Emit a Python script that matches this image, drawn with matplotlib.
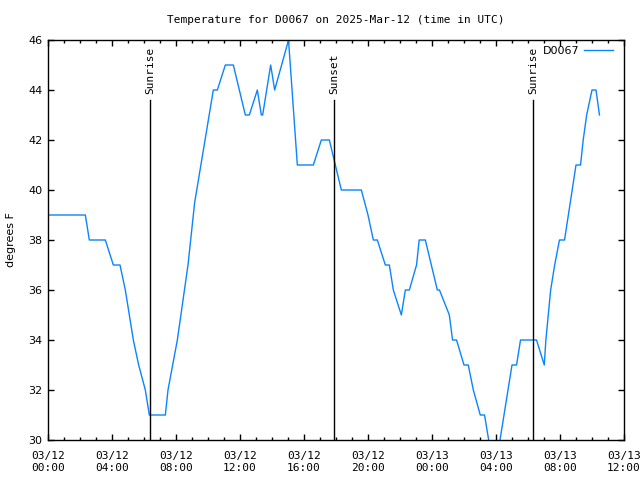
import matplotlib
matplotlib.use("Agg")
import matplotlib.pyplot as plt
import matplotlib.dates as mdates
import pandas as pd

# temperature readings (UTC)
times = ["2025-03-12 00:00", "2025-03-12 02:20", "2025-03-12 02:35", "2025-03-12 03:35",
         "2025-03-12 04:05", "2025-03-12 04:30", "2025-03-12 04:50", "2025-03-12 05:05",
         "2025-03-12 05:20", "2025-03-12 05:40", "2025-03-12 06:05", "2025-03-12 06:20",
         "2025-03-12 07:20", "2025-03-12 07:30", "2025-03-12 08:05", "2025-03-12 08:45",
         "2025-03-12 09:10", "2025-03-12 10:20", "2025-03-12 10:35", "2025-03-12 11:05",
         "2025-03-12 11:35", "2025-03-12 12:20", "2025-03-12 12:35", "2025-03-12 13:05",
         "2025-03-12 13:20", "2025-03-12 13:25", "2025-03-12 13:55", "2025-03-12 14:10",
         "2025-03-12 15:02", "2025-03-12 15:35", "2025-03-12 16:35", "2025-03-12 17:05",
         "2025-03-12 17:35", "2025-03-12 18:20", "2025-03-12 19:35", "2025-03-12 20:00",
         "2025-03-12 20:20", "2025-03-12 20:35", "2025-03-12 21:05", "2025-03-12 21:20",
         "2025-03-12 21:35", "2025-03-12 22:05", "2025-03-12 22:20", "2025-03-12 22:35",
         "2025-03-12 23:02", "2025-03-12 23:12", "2025-03-12 23:35", "2025-03-13 00:20",
         "2025-03-13 00:28", "2025-03-13 01:05", "2025-03-13 01:17", "2025-03-13 01:32",
         "2025-03-13 02:00", "2025-03-13 02:16", "2025-03-13 02:35", "2025-03-13 03:01",
         "2025-03-13 03:17", "2025-03-13 03:48", "2025-03-13 04:00", "2025-03-13 05:00",
         "2025-03-13 05:17", "2025-03-13 05:32", "2025-03-13 06:32", "2025-03-13 07:01",
         "2025-03-13 07:07", "2025-03-13 07:16", "2025-03-13 07:25", "2025-03-13 07:40",
         "2025-03-13 07:58", "2025-03-13 08:17", "2025-03-13 09:00", "2025-03-13 09:17",
         "2025-03-13 09:27", "2025-03-13 09:40", "2025-03-13 10:00", "2025-03-13 10:15",
         "2025-03-13 10:28"]
temps = [39, 39, 38, 38,
         37, 37, 36, 35,
         34, 33, 32, 31,
         31, 32, 34, 37,
         39.5, 44, 44, 45,
         45, 43, 43, 44,
         43, 43, 45, 44,
         46, 41, 41, 42,
         42, 40, 40, 39,
         38, 38, 37, 37,
         36, 35, 36, 36,
         37, 38, 38, 36,
         36, 35, 34, 34,
         33, 33, 32, 31,
         31, 29, 29, 33,
         33, 34, 34, 33,
         34, 35, 36, 37,
         38, 38, 41, 41,
         42, 43, 44, 44,
         43]

# sun events
sun_times = ["2025-03-12 06:23", "2025-03-12 17:52", "2025-03-13 06:19"]
sun_labels = ["Sunrise", "Sunset", "Sunrise"]

x_start = pd.Timestamp("2025-03-12 00:00")
x_end = pd.Timestamp("2025-03-13 12:00")

t = pd.to_datetime(times)

fig = plt.figure(figsize=(6.4, 4.8), dpi=100)
ax = fig.add_axes([48/640, 40/480, 576/640, 400/480])

ax.plot(t, temps, color="#0a84ff", lw=1.0, label="D0067")

for st, lab in zip(pd.to_datetime(sun_times), sun_labels):
    ax.plot([st, st], [30, 43.6], color="black", lw=1.0)
    ax.text(st, 43.85, lab, rotation=90, ha="center", va="bottom",
            fontsize=8, family="DejaVu Sans Mono")

ax.set_xlim(x_start, x_end)
ax.set_ylim(30, 46)
ax.set_yticks(range(30, 47, 2))
ax.xaxis.set_major_locator(mdates.HourLocator(byhour=[0, 4, 8, 12, 16, 20]))
ax.xaxis.set_minor_locator(mdates.HourLocator())
ax.xaxis.set_major_formatter(mdates.DateFormatter("%m/%d\n%H:%M"))

ax.tick_params(which="both", direction="in", top=True, right=True, labelsize=8, width=1)
ax.tick_params(which="major", length=4, pad=8)
ax.tick_params(which="minor", length=2)
ax.tick_params(axis="y", pad=4)
for lab in ax.get_xticklabels():
    lab.set_family("DejaVu Sans Mono")
for s in ax.spines.values():
    s.set_linewidth(1)

fig.text(11/640, 0.5, "degrees F", rotation=90, ha="center", va="center", fontsize=8)
ax.set_title("Temperature for D0067 on 2025-Mar-12 (time in UTC)",
             fontsize=8, family="DejaVu Sans Mono", pad=12)

ax.legend(loc="upper right", bbox_to_anchor=(1 - 4/576, 1 + 1/400), frameon=False,
          markerfirst=False, handlelength=2.6, fontsize=8, borderaxespad=0.1,
          handletextpad=0.45, borderpad=0.5)

fig.savefig("out.png", dpi=100)
